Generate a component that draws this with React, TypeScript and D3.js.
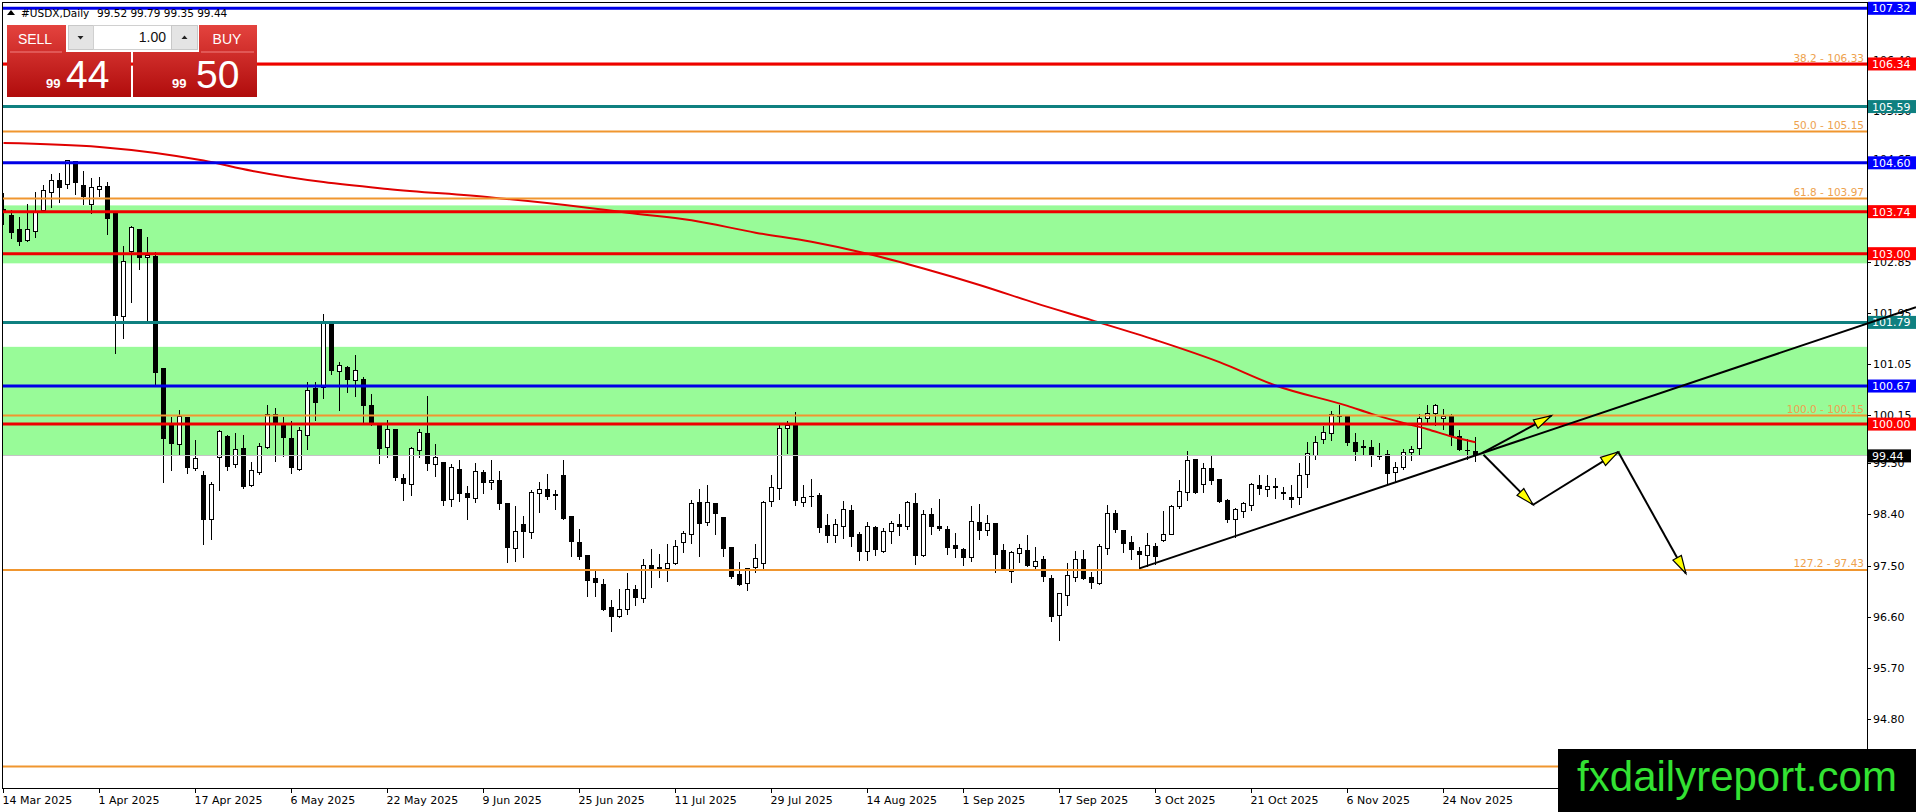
import React from 'react';
import * as d3 from 'd3';

// ---------------- DATA ----------------
const dateLabels = ['14 Mar 2025','1 Apr 2025','17 Apr 2025','6 May 2025','22 May 2025','9 Jun 2025','25 Jun 2025','11 Jul 2025','29 Jul 2025','14 Aug 2025','1 Sep 2025','17 Sep 2025','3 Oct 2025','21 Oct 2025','6 Nov 2025','24 Nov 2025'];
const dateLabelBars = [0,12,24,36,48,60,72,84,96,108,120,132,144,156,168,180];

// [open, high, low, close] per daily bar
const ohlc: [number, number, number, number][] = [
  [103.78,104.08,103.52,103.72],[103.68,103.77,103.27,103.37],[103.42,103.65,103.15,103.21],[103.23,103.89,103.21,103.43],
  [103.39,104.09,103.28,103.72],[103.76,104.21,103.74,104.11],[104.07,104.41,103.82,104.29],[104.29,104.43,103.90,104.16],
  [104.22,104.65,104.15,104.64],[104.62,104.63,104.04,104.25],[104.20,104.47,103.86,104.00],[103.87,104.34,103.71,104.16],
  [104.13,104.36,104.00,104.19],[104.19,104.27,103.34,103.62],[103.72,103.74,101.24,101.91],[101.89,103.15,101.51,102.87],
  [103.04,103.50,102.14,103.46],[103.42,103.45,102.72,102.94],[102.94,103.31,101.82,102.97],[102.95,103.04,100.69,100.90],
  [100.97,100.98,98.97,99.74],[99.98,100.13,99.18,99.66],[99.64,100.25,99.45,100.13],[100.12,100.13,99.13,99.23],
  [99.22,99.72,99.18,99.40],[99.09,99.18,97.88,98.32],[98.32,98.99,97.97,98.94],[99.41,99.91,98.83,99.87],
  [99.79,99.81,99.18,99.25],[99.28,99.85,99.24,99.55],[99.57,99.81,98.87,98.90],[98.92,99.34,98.90,99.18],
  [99.14,99.67,99.11,99.61],[99.59,100.35,99.57,100.16],[100.16,100.29,99.35,100.01],[99.98,100.13,99.43,99.77],
  [99.75,100.07,99.13,99.23],[99.20,99.95,99.19,99.88],[99.80,100.75,99.56,100.60],[100.62,100.75,100.06,100.38],
  [100.65,101.95,100.45,101.78],[101.77,101.78,100.88,100.94],[100.93,101.11,100.24,101.03],[101.00,101.04,100.55,100.79],
  [100.76,101.23,100.48,100.95],[100.79,100.83,100.01,100.33],[100.33,100.54,99.98,100.00],[99.97,100.00,99.31,99.57],
  [99.59,100.08,99.41,99.90],[99.90,99.92,99.00,99.06],[99.04,99.13,98.65,98.96],[98.94,99.60,98.74,99.57],
  [99.54,99.92,99.41,99.85],[99.84,100.51,99.19,99.31],[99.29,99.65,99.08,99.41],[99.33,99.34,98.57,98.65],
  [98.67,99.31,98.55,99.24],[99.20,99.37,98.63,98.78],[98.78,98.91,98.32,98.71],[98.69,99.33,98.62,99.16],
  [99.15,99.20,98.78,98.97],[98.97,99.37,98.84,99.01],[99.01,99.19,98.50,98.60],[98.60,98.62,97.56,97.83],
  [97.81,98.56,97.58,98.11],[98.24,98.39,97.65,98.11],[98.09,98.84,97.99,98.80],[98.78,98.99,98.44,98.85],
  [98.84,99.13,98.67,98.73],[98.76,98.85,98.49,98.74],[99.09,99.38,98.32,98.34],[98.37,98.38,97.67,97.93],
  [97.92,98.16,97.62,97.67],[97.68,97.68,96.96,97.25],[97.28,97.46,96.96,97.21],[97.17,97.28,96.71,96.74],
  [96.77,96.91,96.35,96.61],[96.61,97.11,96.60,96.74],[96.74,97.39,96.64,97.09],[97.08,97.17,96.81,96.95],
  [96.93,97.64,96.86,97.51],[97.51,97.81,97.12,97.44],[97.48,97.72,97.30,97.45],[97.46,97.89,97.22,97.55],
  [97.55,97.96,97.52,97.84],[97.92,98.12,97.74,98.08],[98.06,98.67,97.89,98.60],[98.62,98.87,97.66,98.25],
  [98.26,98.93,98.22,98.62],[98.60,98.62,98.05,98.43],[98.36,98.37,97.67,97.81],[97.83,97.84,97.28,97.31],
  [97.36,97.58,97.16,97.17],[97.20,97.48,97.07,97.46],[97.47,97.89,97.38,97.64],[97.54,98.66,97.44,98.62],
  [98.64,99.12,98.55,98.89],[98.87,100.02,98.67,99.92],[99.92,100.07,99.49,99.98],[99.98,100.22,98.56,98.65],
  [98.62,98.94,98.55,98.71],[98.73,99.04,98.55,98.72],[98.75,98.80,98.09,98.18],[98.21,98.43,97.91,98.04],
  [98.04,98.33,97.91,98.23],[98.19,98.65,97.99,98.49],[98.47,98.59,97.85,98.02],[98.05,98.11,97.59,97.75],
  [97.75,98.29,97.59,98.19],[98.18,98.21,97.68,97.80],[97.75,98.18,97.74,98.11],[98.11,98.30,97.89,98.25],
  [98.24,98.42,98.03,98.19],[98.19,98.65,98.14,98.62],[98.60,98.80,97.53,97.68],[97.68,98.50,97.67,98.41],
  [98.40,98.53,98.05,98.19],[98.20,98.69,98.12,98.16],[98.15,98.21,97.71,97.83],[97.87,98.09,97.65,97.81],
  [97.80,97.82,97.51,97.65],[97.65,98.57,97.58,98.29],[98.27,98.60,97.97,98.12],[98.13,98.41,98.04,98.25],
  [98.25,98.26,97.38,97.70],[97.77,97.90,97.42,97.44],[97.41,97.77,97.21,97.74],[97.72,97.90,97.56,97.81],
  [97.78,98.06,97.50,97.51],[97.50,97.84,97.46,97.58],[97.61,97.68,97.23,97.31],[97.28,97.36,96.52,96.61],
  [96.63,97.03,96.19,97.01],[96.99,97.56,96.80,97.33],[97.30,97.78,97.23,97.62],[97.62,97.80,97.27,97.28],
  [97.30,97.40,97.11,97.21],[97.20,97.89,97.18,97.84],[97.81,98.58,97.71,98.43],[98.43,98.50,98.09,98.15],
  [98.13,98.15,97.74,97.89],[97.92,98.03,97.61,97.79],[97.75,97.85,97.46,97.71],[97.69,98.09,97.49,97.87],
  [97.85,97.91,97.52,97.67],[97.95,98.48,97.93,98.06],[98.06,98.58,98.05,98.55],[98.55,99.03,98.52,98.81],
  [98.80,99.53,98.66,99.36],[99.37,99.40,98.78,98.79],[98.93,99.32,98.79,99.21],[99.21,99.44,98.94,99.00],
  [99.02,99.04,98.62,98.63],[98.66,98.69,98.26,98.32],[98.32,98.53,98.01,98.50],[98.46,98.63,98.36,98.60],
  [98.56,98.97,98.48,98.94],[98.92,99.12,98.76,98.87],[98.85,99.12,98.73,98.90],[98.90,99.06,98.69,98.89],
  [98.79,98.90,98.68,98.78],[98.71,98.93,98.53,98.68],[98.71,99.32,98.58,99.10],[99.12,99.69,98.89,99.48],
  [99.44,99.80,99.37,99.68],[99.72,99.97,99.66,99.85],[99.84,100.24,99.71,100.16],[100.15,100.34,100.01,100.13],
  [100.13,100.14,99.63,99.67],[99.67,99.85,99.36,99.51],[99.60,99.72,99.44,99.59],[99.59,99.72,99.25,99.44],
  [99.44,99.68,99.37,99.43],[99.46,99.56,98.94,99.13],[99.15,99.34,98.97,99.24],[99.23,99.57,99.20,99.50],
  [99.50,99.63,99.36,99.56],[99.57,100.19,99.46,100.09],[100.09,100.34,100.01,100.19],[100.19,100.37,99.98,100.32],
  [100.10,100.28,99.91,100.14],[100.14,100.18,99.63,99.80],[99.78,99.91,99.53,99.56],[99.54,99.74,99.38,99.53],
  [99.52,99.79,99.35,99.44],
];

// moving average (read at sampled bars)
const maBars = [0,12,25,31,40,48,61,73,78,86,94,101,108,115,122,129,136,144,152,159,168,171,175,178,181,184];
const maValues = [104.95,104.88,104.64,104.46,104.26,104.14,103.99,103.81,103.72,103.59,103.37,103.21,103.00,102.74,102.45,102.13,101.83,101.48,101.09,100.68,100.32,100.18,100.02,99.91,99.78,99.68];

// horizontal levels
const levelPrices = [107.32,106.34,105.59,104.60,103.74,103.00,101.79,100.67,100.00];
const levelKinds = ['blue','red','teal','blue','red','red','teal','blue','red'];

// fibonacci levels (the 161.8 label is hidden behind the watermark)
const fibRatios = ['38.2','50.0','61.8','100.0','127.2','161.8'];
const fibPrices = [106.33,105.15,103.97,100.15,97.43,93.97];
const fibLabelShown = [true,true,true,true,true,false];

// green zones
const zoneTops = [103.85,101.36];
const zoneBottoms = [102.83,99.45];

// price axis ticks
const yTicks = [106.40,105.50,104.65,103.75,102.85,101.95,101.05,100.15,99.30,98.40,97.50,96.60,95.70,94.80];

const bidPrice = 99.44;
const titleSymbol = '#USDX,Daily';
const titleValues = '99.52 99.79 99.35 99.44';

// trend line (two anchor points: bar, price)
const trendBars = [142,184];
const trendPrices = [97.46,99.45];

// arrowed segments [bar1, price1, bar2, price2]
const arrowSegments: [number, number, number, number][] = [
  [184.8,99.49,193.5,100.15],
  [185.0,99.46,191.2,98.58],
  [191.2,98.58,201.85,99.51],
  [201.85,99.51,210.3,97.37],
];

// ---------------- STYLE ----------------
const W = 1916, H = 812;
const L = 2, T = 2, R = 1867, B = 788;
const kindColor: Record<string, string> = { blue: '#0000e6', red: '#ee0000', teal: '#0f8080' };
const labelColor: Record<string, string> = { blue: '#0000ff', red: '#ff0000', teal: '#0f8080' };
const FIB = '#f0962f';
const FIB_TEXT = '#eea24e';
const ZONE = '#98fb98';
const FONT = 'DejaVu Sans, Verdana, sans-serif';

const y = d3.scaleLinear().domain([93.593, 107.431]).range([B, T]);
const x = d3.scaleLinear().domain([0, 184]).range([3.5, 1475.5]);

function crisp(v: number) { return Math.round(v - 0.5) + 0.5; }

function Arrow({ x1, y1, x2, y2 }: { x1: number; y1: number; x2: number; y2: number }) {
  const dx = x2 - x1, dy = y2 - y1;
  const len = Math.hypot(dx, dy);
  const ux = dx / len, uy = dy / len;
  const hl = 18, hw = 4.8;
  const bx = x2 - ux * hl, by = y2 - uy * hl;
  const px = -uy, py = ux;
  const pts = `${x2},${y2} ${bx + px * hw},${by + py * hw} ${bx - px * hw},${by - py * hw}`;
  return (
    <g>
      <line x1={x1} y1={y1} x2={x2} y2={y2} stroke="#000" strokeWidth={2} />
      <polygon points={pts} fill="#ffff00" stroke="#000" strokeWidth={1.2} strokeLinejoin="miter" />
    </g>
  );
}

export default function App() {
  const maLine = d3.line<number>()
    .x((_, i) => x(maBars[i]))
    .y((v) => y(v))
    .curve(d3.curveMonotoneX)(maValues) || '';

  // trend line extended to the right edge of the window
  const tSlope = (trendPrices[1] - trendPrices[0]) / (trendBars[1] - trendBars[0]);
  const endBar = x.invert(W);
  const endPrice = trendPrices[0] + tSlope * (endBar - trendBars[0]);

  return (
    <svg width={W} height={H} viewBox={`0 0 ${W} ${H}`}
      style={{ position: 'absolute', left: 0, top: 0, background: '#fff', display: 'block' }}>
      <defs>
        <linearGradient id="redGrad" x1="0" y1="0" x2="0" y2="1">
          <stop offset="0%" stopColor="#e4433e" />
          <stop offset="100%" stopColor="#b00c0c" />
        </linearGradient>
        <clipPath id="plotClip"><rect x={L} y={T} width={R - L} height={B - T} /></clipPath>
      </defs>
      <rect x={0} y={0} width={W} height={H} fill="#fff" />

      <g clipPath="url(#plotClip)">
        {/* zones */}
        {zoneTops.map((t, i) => (
          <rect key={'z' + i} x={L} y={y(t)} width={R - L} height={y(zoneBottoms[i]) - y(t)} fill={ZONE} />
        ))}

        {/* candles */}
        <g shapeRendering="crispEdges">
          {ohlc.map(([o, h, l, c], i) => {
            const cx = x(i);
            const top = crisp(y(Math.max(o, c)));
            const bot = crisp(y(Math.min(o, c)));
            const bull = c >= o;
            return (
              <g key={'c' + i}>
                <line x1={cx} x2={cx} y1={crisp(y(h))} y2={crisp(y(l))} stroke="#000" strokeWidth={1} />
                {bot - top < 1 ? (
                  <line x1={cx - 2.5} x2={cx + 2.5} y1={top} y2={top} stroke="#000" strokeWidth={1} />
                ) : (
                  <rect x={cx - 2} y={top} width={4} height={bot - top} fill={bull ? '#fff' : '#000'} stroke="#000" strokeWidth={1} />
                )}
              </g>
            );
          })}
        </g>

        {/* moving average */}
        <path d={maLine} fill="none" stroke="#e00000" strokeWidth={2} />

        {/* bid line */}
        <line x1={L} x2={R} y1={crisp(y(bidPrice))} y2={crisp(y(bidPrice))} stroke="#c4c4c4" strokeWidth={1} />

        {/* fib lines */}
        {fibPrices.map((p, i) => (
          <g key={'f' + i}>
            <line x1={L} x2={R} y1={y(p)} y2={y(p)} stroke={FIB} strokeWidth={2} />
            {fibLabelShown[i] && (
              <text x={R - 3} y={y(p) - 3} textAnchor="end" fontFamily={FONT} fontSize={10.5} fill={FIB_TEXT}>
                {fibRatios[i]} - {p.toFixed(2)}
              </text>
            )}
          </g>
        ))}

        {/* horizontal levels */}
        {levelPrices.map((p, i) => (
          <line key={'h' + i} x1={L} x2={R} y1={y(p)} y2={y(p)} stroke={kindColor[levelKinds[i]]} strokeWidth={3} />
        ))}
      </g>

      {/* frame */}
      <g shapeRendering="crispEdges" stroke="#000" strokeWidth={1}>
        <line x1={L + 0.5} x2={L + 0.5} y1={T} y2={B} />
        <line x1={L} x2={R} y1={T + 0.5} y2={T + 0.5} />
        <line x1={R + 0.5} x2={R + 0.5} y1={T} y2={H} />
        <line x1={L} x2={R} y1={B + 0.5} y2={B + 0.5} />
      </g>

      {/* price axis ticks */}
      {yTicks.map((v, i) => (
        <g key={'yt' + i}>
          <line x1={R} x2={R + 4} y1={crisp(y(v))} y2={crisp(y(v))} stroke="#000" strokeWidth={1} shapeRendering="crispEdges" />
          <text x={R + 6} y={y(v)} dominantBaseline="central" fontFamily={FONT} fontSize={11} fill="#000">{v.toFixed(2)}</text>
        </g>
      ))}

      {/* level labels on axis */}
      {levelPrices.map((p, i) => (
        <g key={'hl' + i}>
          <rect x={R + 1} y={y(p) - 6.5} width={W - R - 1} height={13} fill={labelColor[levelKinds[i]]} />
          <text x={R + 5} y={y(p) + 0.5} dominantBaseline="central" fontFamily={FONT} fontSize={11} fill="#fff">{p.toFixed(2)}</text>
        </g>
      ))}
      <g>
        <rect x={R + 1} y={y(bidPrice) - 6.5} width={43} height={13} fill="#000" />
        <text x={R + 5} y={y(bidPrice) + 0.5} dominantBaseline="central" fontFamily={FONT} fontSize={11} fill="#fff">{bidPrice.toFixed(2)}</text>
      </g>

      {/* date axis */}
      {dateLabelBars.map((b, i) => (
        <g key={'d' + i}>
          <line x1={x(b)} x2={x(b)} y1={B} y2={B + 5} stroke="#000" strokeWidth={1} shapeRendering="crispEdges" />
          <text x={x(b) - 1} y={804} fontFamily={FONT} fontSize={11} fill="#000">{dateLabels[i]}</text>
        </g>
      ))}

      {/* trend line */}
      <line x1={x(trendBars[0])} y1={y(trendPrices[0])} x2={W} y2={y(endPrice)} stroke="#000" strokeWidth={2} />

      {/* arrows */}
      {arrowSegments.map(([b1, p1, b2, p2], i) => (
        <Arrow key={'a' + i} x1={x(b1)} y1={y(p1)} x2={x(b2)} y2={y(p2)} />
      ))}

      {/* title */}
      <polygon points="7,15 11,10 15,15" fill="#000" />
      <text x={21} y={17} fontFamily={FONT} fontSize={10.5} fill="#000">{titleSymbol}</text>
      <text x={97} y={17} fontFamily={FONT} fontSize={10.5} fill="#000">{titleValues}</text>

      {/* one-click trading panel */}
      <g>
        <rect x={7} y={25} width={124} height={72} fill="url(#redGrad)" />
        <rect x={133} y={25} width={124} height={72} fill="url(#redGrad)" />
        <rect x={66} y={24} width={133} height={28} fill="#fff" />
        <rect x={68.5} y={25.5} width={25} height={24} fill="#e4e4e4" stroke="#c8c8c8" />
        <rect x={93.5} y={25.5} width={78} height={24} fill="#fff" stroke="#d0d0d0" />
        <rect x={171.5} y={25.5} width={26} height={24} fill="#e4e4e4" stroke="#c8c8c8" />
        <polygon points="77.5,36 83.5,36 80.5,39.5" fill="#222" />
        <polygon points="181.5,39 187.5,39 184.5,35.5" fill="#222" />
        <text x={166} y={42} textAnchor="end" fontFamily="Liberation Sans, Arial, sans-serif" fontSize={14} fill="#111">1.00</text>
        <line x1={10} x2={62} y1={52} y2={52} stroke="#f08080" strokeWidth={1} />
        <line x1={201} x2={254} y1={52} y2={52} stroke="#f08080" strokeWidth={1} />
        <text x={35} y={44} textAnchor="middle" fontFamily="Liberation Sans, Arial, sans-serif" fontSize={14} fill="#fff">SELL</text>
        <text x={227} y={44} textAnchor="middle" fontFamily="Liberation Sans, Arial, sans-serif" fontSize={14} fill="#fff">BUY</text>
        <text x={46} y={88} fontFamily="Liberation Sans, Arial, sans-serif" fontSize={13} fontWeight="bold" fill="#fff">99</text>
        <text x={66} y={88} fontFamily="Liberation Sans, Arial, sans-serif" fontSize={39} fill="#fff">44</text>
        <text x={172} y={88} fontFamily="Liberation Sans, Arial, sans-serif" fontSize={13} fontWeight="bold" fill="#fff">99</text>
        <text x={196} y={88} fontFamily="Liberation Sans, Arial, sans-serif" fontSize={39} fill="#fff">50</text>
      </g>

      {/* watermark */}
      <rect x={1558} y={749} width={W - 1558} height={H - 749} fill="#000" />
      <text x={1737} y={791} textAnchor="middle" fontFamily="Liberation Sans, Arial, sans-serif" fontSize={42} fill="#33e233">fxdailyreport.com</text>
    </svg>
  );
}
